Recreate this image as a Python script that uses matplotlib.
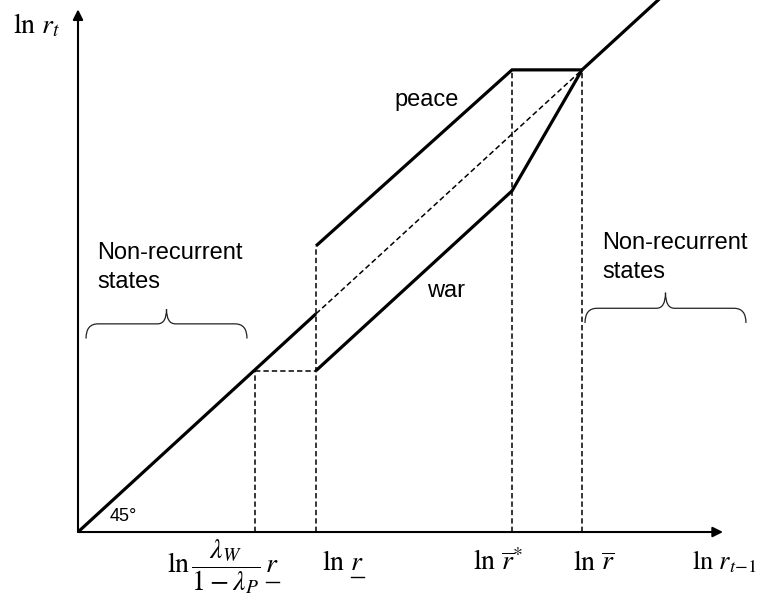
import numpy as np
import matplotlib.pyplot as plt
from matplotlib.path import Path
import matplotlib.patches as patches

plt.rcParams['mathtext.fontset'] = 'stix'
plt.rcParams['font.family'] = ['Liberation Sans', 'DejaVu Sans']

# key points on the ln r_{t-1} axis
x_lower = 177     # ln (lambda_W / (1 - lambda_P)) r_
x_r_low = 238     # ln r_
x_r_star = 434    # ln r-bar*
x_r_bar = 504     # ln r-bar
x_diag_end = 600

# policy lines
peace_x = [x_r_low, x_r_star, x_r_bar]
peace_y = [312, 504, 504]
war_x = [x_r_low, x_r_star, x_r_bar]
war_y = [176, 372, 504]

x_labels = [r'$\ln\dfrac{\lambda_W}{1-\lambda_P}\,r$', r'$\ln\,r$',
            r'$\ln\,\overline{r}^{*}$', r'$\ln\,\overline{r}$']
axis_labels = [r'$\ln\,r_{t\!-\!1}$', r'$\ln\,r_t$']


def brace(ax, x0, x1, y_end, y_mid, y_tip, r_end=12, r_tip=9):
    xc = (x0 + x1) / 2
    verts = [(x0, y_end), (x0, y_mid), (x0 + r_end, y_mid),
             (xc - r_tip, y_mid),
             (xc, y_mid), (xc, y_tip),
             (xc, y_mid), (xc + r_tip, y_mid),
             (x1 - r_end, y_mid),
             (x1, y_mid), (x1, y_end)]
    codes = [Path.MOVETO, Path.CURVE3, Path.CURVE3, Path.LINETO,
             Path.CURVE3, Path.CURVE3, Path.CURVE3, Path.CURVE3,
             Path.LINETO, Path.CURVE3, Path.CURVE3]
    ax.add_patch(patches.PathPatch(Path(verts, codes), fill=False,
                                   lw=0.9, color='#222222'))


fig = plt.figure(figsize=(7.59, 6.15), dpi=100)
ax = fig.add_axes([0, 0, 1, 1])
ax.set_xlim(-78, 681)
ax.set_ylim(-90.5, 580.2)
ax.axis('off')

thick = dict(color='black', lw=2.3, solid_capstyle='butt', solid_joinstyle='miter')
dash = dict(color='black', lw=1.1, linestyle=(0, (3.5, 2)))

# axes with arrows
ax.annotate('', xy=(645, 0), xytext=(0, 0),
            arrowprops=dict(arrowstyle='-|>', mutation_scale=15, lw=1.5, color='black',
                            shrinkA=0, shrinkB=0))
ax.annotate('', xy=(0, 570), xytext=(0, 0),
            arrowprops=dict(arrowstyle='-|>', mutation_scale=15, lw=1.5, color='black',
                            shrinkA=0, shrinkB=0))

# 45 degree line: solid, dashed in the middle, solid again
ax.plot([0, x_r_low], [0, x_r_low], **thick)
ax.plot([x_r_low, x_r_bar], [x_r_low, x_r_bar], **dash)
ax.plot([x_r_bar, x_diag_end], [x_r_bar, x_diag_end], **thick)

ax.plot(peace_x, peace_y, **thick)
ax.plot(war_x, war_y, **thick)

# guide lines
ax.plot([x_lower, x_r_low], [war_y[0], war_y[0]], **dash)
ax.plot([x_lower, x_lower], [0, war_y[0]], **dash)
ax.plot([x_r_low, x_r_low], [0, peace_y[0]], **dash)
ax.plot([x_r_star, x_r_star], [0, peace_y[1]], **dash)
ax.plot([x_r_bar, x_r_bar], [0, peace_y[2]], **dash)

# braces and text
brace(ax, 8, 169, 211, 227, 243)
brace(ax, 507, 668, 228, 244, 261)
ax.text(19, 316, 'Non-recurrent\nstates', fontsize=17, ha='left', va='top',
        linespacing=1.4)
ax.text(524, 327, 'Non-recurrent\nstates', fontsize=17, ha='left', va='top',
        linespacing=1.4)
ax.text(349, 471, 'peace', fontsize=17, ha='center', va='center')
ax.text(368, 263, 'war', fontsize=17, ha='center', va='center')
ax.text(32, 17, '45°', fontsize=13, ha='left', va='center')

ml = dict(fontsize=20, ha='left', va='baseline')
t_frac = ax.text(x_lower - 88, -44, x_labels[0], **ml)
t_low = ax.text(x_r_low + 6, -41, x_labels[1], **ml)
ax.text(x_r_star - 39, -41, x_labels[2], **ml)
ax.text(x_r_bar - 9, -41, x_labels[3], **ml)
ax.text(614, -41, axis_labels[0], fontsize=19, ha='left', va='baseline')
ax.text(-65, 544, axis_labels[1], **ml)

# underline the trailing r of the two "r underbar" labels
fig.canvas.draw()
renderer = fig.canvas.get_renderer()
inv = ax.transData.inverted()
for t, y_line in [(t_frac, -55), (t_low, -49)]:
    bb = t.get_window_extent(renderer)
    x_right = inv.transform((bb.x1, 0))[0]
    x_left = inv.transform((bb.x1 - 12, 0))[0]
    ax.plot([x_left - 1, x_right], [y_line, y_line], color='black', lw=1.0)

fig.savefig('out.png', dpi=100)
